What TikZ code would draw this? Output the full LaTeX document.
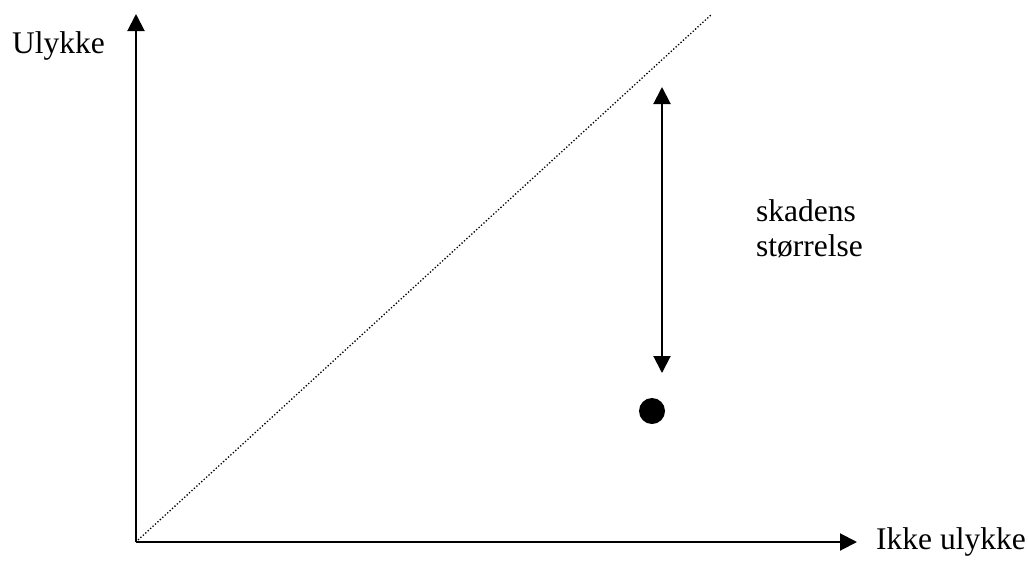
\documentclass[tikz,border=0pt]{standalone}
\usepackage{fontspec}
\setmainfont{Liberation Serif}
\usetikzlibrary{arrows.meta}
\begin{document}
\begin{tikzpicture}[x=1pt,y=-1pt,
  axis/.style={line width=2pt,-{Triangle[length=17pt,width=17pt]}},
  dbl/.style={line width=2pt,{Triangle[length=17pt,width=17pt]}-{Triangle[length=17pt,width=17pt]}},
  lbl/.style={inner sep=0pt,anchor=base west,font=\fontsize{31.5}{35}\selectfont},
  diag/.style={line width=1.3pt,dash pattern=on 1.3pt off 2pt}]
\useasboundingbox (0,0) rectangle (1029,563);
\coordinate (O) at (136,542);
\coordinate (Y) at (136,14);
\coordinate (X) at (857,542);
\coordinate (D0) at (138,540);
\coordinate (D1) at (712,14);
\coordinate (T) at (662,87);
\coordinate (B) at (662,373);
\draw[axis] (O) -- (Y);
\draw[axis] (O) -- (X);
\draw[diag] (D0) -- (D1);
\draw[dbl] (T) -- (B);
\node[circle,fill=black,minimum size=26pt,inner sep=0pt] (dot) at (652,411) {};
\node[lbl] (ul) at (12,53) {Ulykke};
\node[lbl] (ik) at (876,549) {Ikke ulykke};
\node[lbl] (sk) at (756,221) {skadens};
\node[lbl] (st) at (756,256) {størrelse};
\end{tikzpicture}
\end{document}
